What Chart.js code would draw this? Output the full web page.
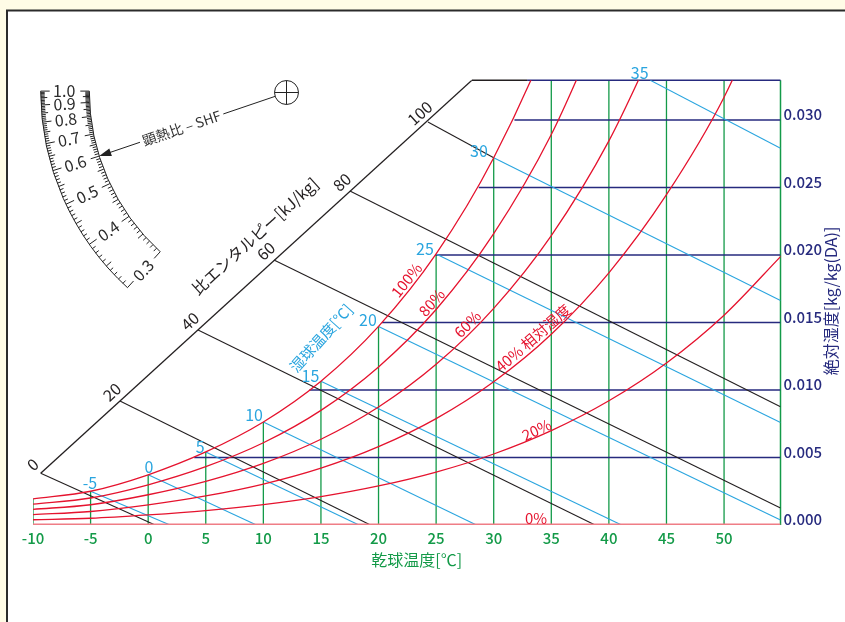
<!DOCTYPE html>
<html>
<head>
<meta charset="utf-8">
<script src="https://cdn.jsdelivr.net/npm/chart.js@4.4.1/dist/chart.umd.min.js"></script>
<style>
html, body { margin: 0; padding: 0; background: #fffce6; }
canvas { display: block; }
</style>
</head>
<body>
<canvas id="chart" width="845" height="622"></canvas>
<script>
// dry bulb temperature [C] where the relative humidity curves are read
const temps = [-10, -5, 0, 5, 10, 15, 20, 25, 30, 35, 40, 45, 50, 55];
// absolute humidity [kg/kg(DA)] on each relative humidity curve
const rh100 = [0.00193, 0.00250, 0.00372, 0.00541, 0.00763, 0.01065, 0.01471, 0.02008, 0.02720, 0.03657, 0.04890];
const rh80 = [0.00154, 0.00200, 0.00298, 0.00432, 0.00609, 0.00849, 0.01171, 0.01596, 0.02158, 0.02892, 0.03851];
const rh60 = [0.00116, 0.00150, 0.00224, 0.00323, 0.00456, 0.00635, 0.00874, 0.01190, 0.01605, 0.02144, 0.02845, 0.03745];
const rh40 = [0.00077, 0.00100, 0.00149, 0.00215, 0.00303, 0.00421, 0.00580, 0.00788, 0.01061, 0.01413, 0.01868, 0.02447, 0.03169, 0.04127];
const rh20 = [0.00039, 0.00050, 0.00075, 0.00107, 0.00151, 0.00210, 0.00289, 0.00392, 0.00526, 0.00699, 0.00920, 0.01200, 0.01554, 0.01997];
const rhCurves = [rh100, rh80, rh60, rh40, rh20];
const rhNames = ['100%', '80%', '60%', '40% 相対湿度', '20%', '0%'];

// dry bulb lines and absolute humidity lines
const dryBulb = [-10, -5, 0, 5, 10, 15, 20, 25, 30, 35, 40, 45, 50];
const humidity = [0.005, 0.010, 0.015, 0.020, 0.025, 0.030];
const dewPoint = [4.0, 14.0, 20.3, 24.9, 28.7, 31.8];

// wet bulb lines: start on the saturation curve, end at the bottom or right edge
const wetBulb = [-5, 0, 5, 10, 15, 20, 25, 30, 35];
const wbStartT = [-5, 0, 5, 10, 15, 20, 25, 30, 43.6];
const wbStartX = [0.00250, 0.00372, 0.00541, 0.00763, 0.01065, 0.01471, 0.02008, 0.02720, 0.03294];
const wbEndT = [1.9, 9.4, 18.3, 28.5, 41.1, 54.9, 54.9, 54.9, 54.9];
const wbEndX = [0, 0, 0, 0, 0, 0.00037, 0.00760, 0.01663, 0.02791];

// specific enthalpy lines [kJ/kg]
const enthalpy = [0, 20, 40, 60, 80, 100];
const hStartT = [-9.33, -2.45, 4.33, 10.92, 17.52, 24.29];
const hStartX = [0.00383, 0.00919, 0.01444, 0.01963, 0.02474, 0.02985];
const hEndT = [0.6, 19.3, 38.8, 54.9, 54.9, 30.0];
const hEndX = [0, 0, 0, 0.00126, 0.00876, 0.02720];
const hAxisTop = { t: 28.1, x: 0.03294 };
const satAtTop = 32.9;

// SHF protractor values
const shfLabels = [1.0, 0.9, 0.8, 0.7, 0.6, 0.5, 0.4, 0.3];
const shfPointer = 0.6;

const xMin = -10, xMax = 54.9, yMax = 0.03294;

// label anchors (data coordinates) and rotation
const rhLabelAt = [[22.44, 0.01815, -51], [24.61, 0.01648, -48], [27.72, 0.01489, -45], [33.41, 0.01385, -41], [33.73, 0.00704, -25], [33.67, 0.00052, 0]];
const wbLabelAt = [[-5.05, 0.00311], [0.07, 0.00433], [4.52, 0.00578], [9.19, 0.00815], [14.09, 0.01104], [19.08, 0.01519], [24.03, 0.02047], [28.72, 0.02770], [42.67, 0.03348]];

const GREEN = '#139a48', NAVY = '#262a7e', RED = '#e5132e', BLUE = '#2aa5df', BLACK = '#231f20';
const FONT = '"Noto Sans CJK JP", "Noto Sans", sans-serif';
Chart.defaults.font.family = FONT;

function seg(t1, x1, t2, x2) { return [{ x: t1, y: x1 }, { x: t2, y: x2 }]; }
function line(data, color, width, extra) {
    return Object.assign({ data: data, showLine: true, borderColor: color, borderWidth: width, pointRadius: 0, fill: false }, extra || {});
}

const datasets = [];
// red: relative humidity (first = drawn on top)
rhCurves.forEach(function(arr) {
    datasets.push(line(arr.map((v, i) => ({ x: temps[i], y: v })), RED, 1.3, { cubicInterpolationMode: 'monotone' }));
});
datasets.push(line(seg(xMin, 0, xMax, 0), '#ef7d86', 3));
// blue: wet bulb
wetBulb.forEach(function(w, i) {
    datasets.push(line(seg(wbStartT[i], wbStartX[i], wbEndT[i], wbEndX[i]), BLUE, 1.1));
});
// black: enthalpy
enthalpy.forEach(function(h, i) {
    datasets.push(line(seg(hStartT[i], hStartX[i], hEndT[i], hEndX[i]), BLACK, 1.1));
});
datasets.push(line(seg(hStartT[0], hStartX[0], hAxisTop.t, hAxisTop.x), BLACK, 1.3));
datasets.push(line(seg(hAxisTop.t, yMax, satAtTop, yMax), BLACK, 1.5, { clip: 3 }));
// navy: absolute humidity
humidity.forEach(function(x, i) {
    datasets.push(line(seg(dewPoint[i], x, xMax, x), NAVY, 1.3));
});
datasets.push(line(seg(satAtTop, yMax, xMax, yMax), NAVY, 1.5, { clip: 3 }));
// green: dry bulb
dryBulb.forEach(function(t, i) {
    const top = Math.min(rh100[i] === undefined ? yMax : rh100[i], yMax);
    datasets.push(line(seg(t, 0, t, top), GREEN, 1.3));
});
datasets.push(line(seg(xMax, 0, xMax, yMax), GREEN, 1.5, { clip: 3 }));

function drawText(ctx, str, x, y, rot, size, color, weight) {
    ctx.save();
    ctx.translate(x, y);
    ctx.rotate(rot * Math.PI / 180);
    ctx.font = (weight || 'normal') + ' ' + size + 'px ' + FONT;
    ctx.fillStyle = color;
    ctx.textAlign = 'center';
    ctx.textBaseline = 'middle';
    ctx.fillText(str, 0, 0);
    ctx.restore();
}

function drawShf(ctx) {
    const cx = 306.7, cy = 91.1, rIn = 217.4, rOut = 266, rLab = 242.5, k = 0.47;
    const ang = s => Math.atan(k * (1 - s) / s);
    const pt = (a, r) => [cx - r * Math.cos(a), cy + r * Math.sin(a)];
    ctx.save();
    ctx.strokeStyle = '#222';
    ctx.lineWidth = 1;
    const aEnd = ang(0.3);
    [rIn, rOut].forEach(function(r) {
        ctx.beginPath();
        ctx.arc(cx, cy, r, Math.PI - aEnd, Math.PI);
        ctx.stroke();
    });
    ctx.beginPath();
    for (let i = 30; i <= 100; i++) {
        const a = ang(i / 100);
        const len = i % 10 === 0 ? 9 : (i % 5 === 0 ? 6.5 : 4);
        let p = pt(a, rOut), q = pt(a, rOut - len);
        ctx.moveTo(p[0], p[1]); ctx.lineTo(q[0], q[1]);
        p = pt(a, rIn); q = pt(a, rIn + len);
        ctx.moveTo(p[0], p[1]); ctx.lineTo(q[0], q[1]);
    }
    ctx.stroke();
    shfLabels.forEach(function(s) {
        const a = ang(s);
        const p = pt(a, rLab);
        drawText(ctx, s.toFixed(1), p[0], p[1], -a * 180 / Math.PI, 16, '#2a2a2a');
    });
    // pointer circle and arrow
    const c = [286.5, 92.5], rc = 12;
    ctx.beginPath();
    ctx.arc(c[0], c[1], rc, 0, Math.PI * 2);
    ctx.moveTo(c[0] - rc, c[1]); ctx.lineTo(c[0] + rc, c[1]);
    ctx.moveTo(c[0], c[1] - rc); ctx.lineTo(c[0], c[1] + rc);
    ctx.stroke();
    const tip = pt(ang(shfPointer), rIn);
    const dx = c[0] - tip[0], dy = c[1] - tip[1];
    const L = Math.hypot(dx, dy), ux = dx / L, uy = dy / L;
    const mid = 0.44 * L, gap = 44;
    ctx.beginPath();
    ctx.moveTo(tip[0] + ux * 9, tip[1] + uy * 9);
    ctx.lineTo(tip[0] + ux * (mid - gap), tip[1] + uy * (mid - gap));
    ctx.moveTo(tip[0] + ux * (mid + gap), tip[1] + uy * (mid + gap));
    ctx.lineTo(tip[0] + ux * (L - rc), tip[1] + uy * (L - rc));
    ctx.stroke();
    ctx.fillStyle = '#222';
    ctx.beginPath();
    ctx.moveTo(tip[0], tip[1]);
    ctx.lineTo(tip[0] + ux * 12 - uy * 4, tip[1] + uy * 12 + ux * 4);
    ctx.lineTo(tip[0] + ux * 12 + uy * 4, tip[1] + uy * 12 - ux * 4);
    ctx.closePath();
    ctx.fill();
    drawText(ctx, '顕熱比 – SHF', tip[0] + ux * mid, tip[1] + uy * mid, Math.atan2(uy, ux) * 180 / Math.PI, 14, '#333');
    ctx.restore();
}

const decor = {
    id: 'decor',
    beforeDraw(chart) {
        const ctx = chart.ctx;
        ctx.save();
        ctx.fillStyle = '#fffce6';
        ctx.fillRect(0, 0, chart.width, chart.height);
        ctx.fillStyle = '#ffffff';
        ctx.fillRect(7, 10.5, chart.width, chart.height);
        ctx.strokeStyle = '#2b2b2b';
        ctx.lineWidth = 2;
        ctx.beginPath();
        ctx.moveTo(7, chart.height + 2);
        ctx.lineTo(7, 10.5);
        ctx.lineTo(chart.width + 2, 10.5);
        ctx.stroke();
        ctx.restore();
    },
    afterDraw(chart) {
        const ctx = chart.ctx, sx = chart.scales.x, sy = chart.scales.y;
        const px = t => sx.getPixelForValue(t), py = x => sy.getPixelForValue(x);
        // relative humidity labels
        rhNames.forEach(function(n, i) {
            const a = rhLabelAt[i];
            drawText(ctx, n, px(a[0]), py(a[1]), a[2], 15, RED);
        });
        // wet bulb labels
        wetBulb.forEach(function(w, i) {
            const a = wbLabelAt[i];
            drawText(ctx, String(w), px(a[0]), py(a[1]), 0, 16, BLUE);
        });
        drawText(ctx, '湿球温度[℃]', px(15.0), py(0.01385), -48, 15, BLUE);
        // enthalpy scale labels along the oblique axis
        const ax0 = [px(hStartT[0]), py(hStartX[0])], ax1 = [px(hAxisTop.t), py(hAxisTop.x)];
        const adx = ax1[0] - ax0[0], ady = ax1[1] - ax0[1], aL = Math.hypot(adx, ady);
        const ux = adx / aL, uy = ady / aL, nx = uy, ny = -ux;
        const rot = Math.atan2(ady, adx) * 180 / Math.PI;
        enthalpy.forEach(function(h, i) {
            const x0 = px(hStartT[i]), y0 = py(hStartX[i]);
            drawText(ctx, String(h), x0 + nx * 12, y0 + ny * 12, rot, 16, BLACK);
        });
        const tx = ax0[0] + ux * aL * 0.545 + nx * 31, ty = ax0[1] + uy * aL * 0.545 + ny * 31;
        drawText(ctx, '比エンタルピー[kJ/kg]', tx, ty, rot, 16, BLACK);
        // axis titles
        drawText(ctx, '乾球温度[℃]', 416.7, 560, 0, 16, GREEN);
        drawText(ctx, '絶対湿度[kg/kg(DA)]', 830.7, 301, -90, 16, NAVY);
        drawShf(ctx);
    }
};

new Chart(document.getElementById('chart'), {
    type: 'scatter',
    data: { datasets: datasets },
    options: {
        responsive: false,
        animation: false,
        events: [],
        layout: { padding: { left: 33, top: 80.3, right: 0, bottom: 0 } },
        plugins: { legend: { display: false }, tooltip: { enabled: false } },
        scales: {
            x: {
                type: 'linear', position: 'bottom', min: xMin, max: xMax,
                grid: { display: false, drawTicks: false }, border: { display: false },
                ticks: { stepSize: 5, includeBounds: false, autoSkip: false, maxRotation: 0, padding: 4, color: GREEN, font: { size: 15, weight: '500' } },
                afterFit: function(s) { s.height = 97; }
            },
            y: {
                type: 'linear', position: 'right', min: 0, max: yMax,
                grid: { display: false, drawTicks: false }, border: { display: false },
                ticks: { stepSize: 0.005, includeBounds: false, padding: 3, labelOffset: -5.5, color: NAVY, font: { size: 15, weight: '500' },
                    callback: function(v) { return v.toFixed(3); } },
                afterFit: function(s) { s.width = 64.5; }
            }
        }
    },
    plugins: [decor]
});
</script>
</body>
</html>
